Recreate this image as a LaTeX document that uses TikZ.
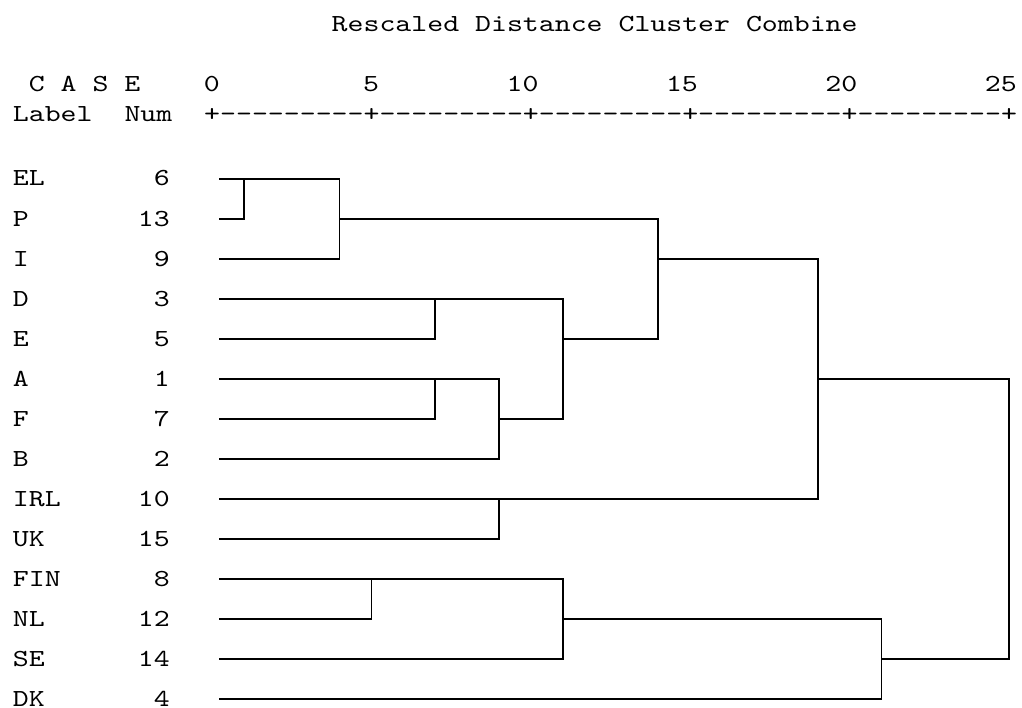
\documentclass[tikz,border=0pt]{standalone}
\usepackage{fontspec}
\newfontfamily\spssfont{lmmono10-regular.otf}[FakeStretch=1.239]
\usetikzlibrary{positioning}

\begin{document}
\begin{tikzpicture}[x=1bp, y=-1bp, node distance=40bp,
        every node/.style = {font=\spssfont\fontsize{24.5bp}{28bp}\selectfont, inner sep=0pt},
        lab/.style = {anchor=base west},
        num/.style = {anchor=base east},
        link/.style = {line width=1.8bp, line cap=rect}]

            \useasboundingbox (0,0) rectangle (1022,708);

            % heading
            \node[lab] (title) at (331.5,32) {Rescaled Distance Cluster Combine};
            \node[lab] (case) at (28.6,92) {C A S E};
            \node[lab] (label) at (12.7,122) {Label};
            \node[lab] (numhd) at (124.3,122) {Num};
            \node[lab] (axis) at (204,122) {+---------+---------+---------+---------+---------+};
            \node[num] (t0) at (219.9,92) {0};
            \node[num] (t5) at (379.3,92) {5};
            \node[num] (t10) at (538.7,92) {10};
            \node[num] (t15) at (698.1,92) {15};
            \node[num] (t20) at (857.5,92) {20};
            \node[num] (t25) at (1016.9,92) {25};

            % cases
            \node[lab] (EL) at (12.7,186) {EL};
            \node (P) [below=of EL.base west, lab] {P};
            \node (I) [below=of P.base west, lab] {I};
            \node (D) [below=of I.base west, lab] {D};
            \node (E) [below=of D.base west, lab] {E};
            \node (A) [below=of E.base west, lab] {A};
            \node (F) [below=of A.base west, lab] {F};
            \node (B) [below=of F.base west, lab] {B};
            \node (IRL) [below=of B.base west, lab] {IRL};
            \node (UK) [below=of IRL.base west, lab] {UK};
            \node (FIN) [below=of UK.base west, lab] {FIN};
            \node (NL) [below=of FIN.base west, lab] {NL};
            \node (SE) [below=of NL.base west, lab] {SE};
            \node (DK) [below=of SE.base west, lab] {DK};

            \node[num] (nEL) at ([xshift=157.3bp]EL.base west) {6};
            \node[num] (nP) at ([xshift=157.3bp]P.base west) {13};
            \node[num] (nI) at ([xshift=157.3bp]I.base west) {9};
            \node[num] (nD) at ([xshift=157.3bp]D.base west) {3};
            \node[num] (nE) at ([xshift=157.3bp]E.base west) {5};
            \node[num] (nA) at ([xshift=157.3bp]A.base west) {1};
            \node[num] (nF) at ([xshift=157.3bp]F.base west) {7};
            \node[num] (nB) at ([xshift=157.3bp]B.base west) {2};
            \node[num] (nIRL) at ([xshift=157.3bp]IRL.base west) {10};
            \node[num] (nUK) at ([xshift=157.3bp]UK.base west) {15};
            \node[num] (nFIN) at ([xshift=157.3bp]FIN.base west) {8};
            \node[num] (nNL) at ([xshift=157.3bp]NL.base west) {12};
            \node[num] (nSE) at ([xshift=157.3bp]SE.base west) {14};
            \node[num] (nDK) at ([xshift=157.3bp]DK.base west) {4};

            % line starts
            \coordinate (sEL) at ([shift={(50bp,7bp)}]nEL.base east);
            \coordinate (sP) at ([shift={(50bp,7bp)}]nP.base east);
            \coordinate (sI) at ([shift={(50bp,7bp)}]nI.base east);
            \coordinate (sD) at ([shift={(50bp,7bp)}]nD.base east);
            \coordinate (sE) at ([shift={(50bp,7bp)}]nE.base east);
            \coordinate (sA) at ([shift={(50bp,7bp)}]nA.base east);
            \coordinate (sF) at ([shift={(50bp,7bp)}]nF.base east);
            \coordinate (sB) at ([shift={(50bp,7bp)}]nB.base east);
            \coordinate (sIRL) at ([shift={(50bp,7bp)}]nIRL.base east);
            \coordinate (sUK) at ([shift={(50bp,7bp)}]nUK.base east);
            \coordinate (sFIN) at ([shift={(50bp,7bp)}]nFIN.base east);
            \coordinate (sNL) at ([shift={(50bp,7bp)}]nNL.base east);
            \coordinate (sSE) at ([shift={(50bp,7bp)}]nSE.base east);
            \coordinate (sDK) at ([shift={(50bp,7bp)}]nDK.base east);

            % merge levels
            \coordinate (mELP) at (243.8,0);
            \coordinate (mELI) at (339.5,0);
            \coordinate (mFINNL) at (371.4,0);
            \coordinate (mDE) at (435.1,0);
            \coordinate (mAF) at (435.1,0);
            \coordinate (mAFB) at (498.9,0);
            \coordinate (mIRLUK) at (498.9,0);
            \coordinate (mDA) at (562.6,0);
            \coordinate (mFINSE) at (562.6,0);
            \coordinate (mELD) at (658.3,0);
            \coordinate (mELIRL) at (817.7,0);
            \coordinate (mFINDK) at (881.5,0);
            \coordinate (mall) at (1009,0);

            \draw[link] (sEL) -- (sEL -| mELI);
            \draw[link] (sP) -| (sEL -| mELP);
            \draw[link] (sI) -| (sEL -| mELI);
            \draw[link] (sP -| mELI) -- (sP -| mELD);
            \draw[link] (sD) -- (sD -| mDA);
            \draw[link] (sE) -| (sD -| mDE);
            \draw[link] (sA) -- (sA -| mAFB);
            \draw[link] (sF) -| (sA -| mAF);
            \draw[link] (sB) -| (sA -| mAFB);
            \draw[link] (sF -| mAFB) -- (sF -| mDA);
            \draw[link] (sD -| mDA) -- (sF -| mDA);
            \draw[link] (sE -| mDA) -- (sE -| mELD);
            \draw[link] (sP -| mELD) -- (sE -| mELD);
            \draw[link] (sI -| mELD) -- (sI -| mELIRL);
            \draw[link] (sIRL) -- (sIRL -| mELIRL);
            \draw[link] (sUK) -| (sIRL -| mIRLUK);
            \draw[link] (sI -| mELIRL) -- (sIRL -| mELIRL);
            \draw[link] (sA -| mELIRL) -- (sA -| mall);
            \draw[link] (sFIN) -- (sFIN -| mFINSE);
            \draw[link] (sNL) -| (sFIN -| mFINNL);
            \draw[link] (sSE) -| (sFIN -| mFINSE);
            \draw[link] (sNL -| mFINSE) -- (sNL -| mFINDK);
            \draw[link] (sDK) -| (sNL -| mFINDK);
            \draw[link] (sSE -| mFINDK) -| (sA -| mall);
        \end{tikzpicture}
\end{document}
